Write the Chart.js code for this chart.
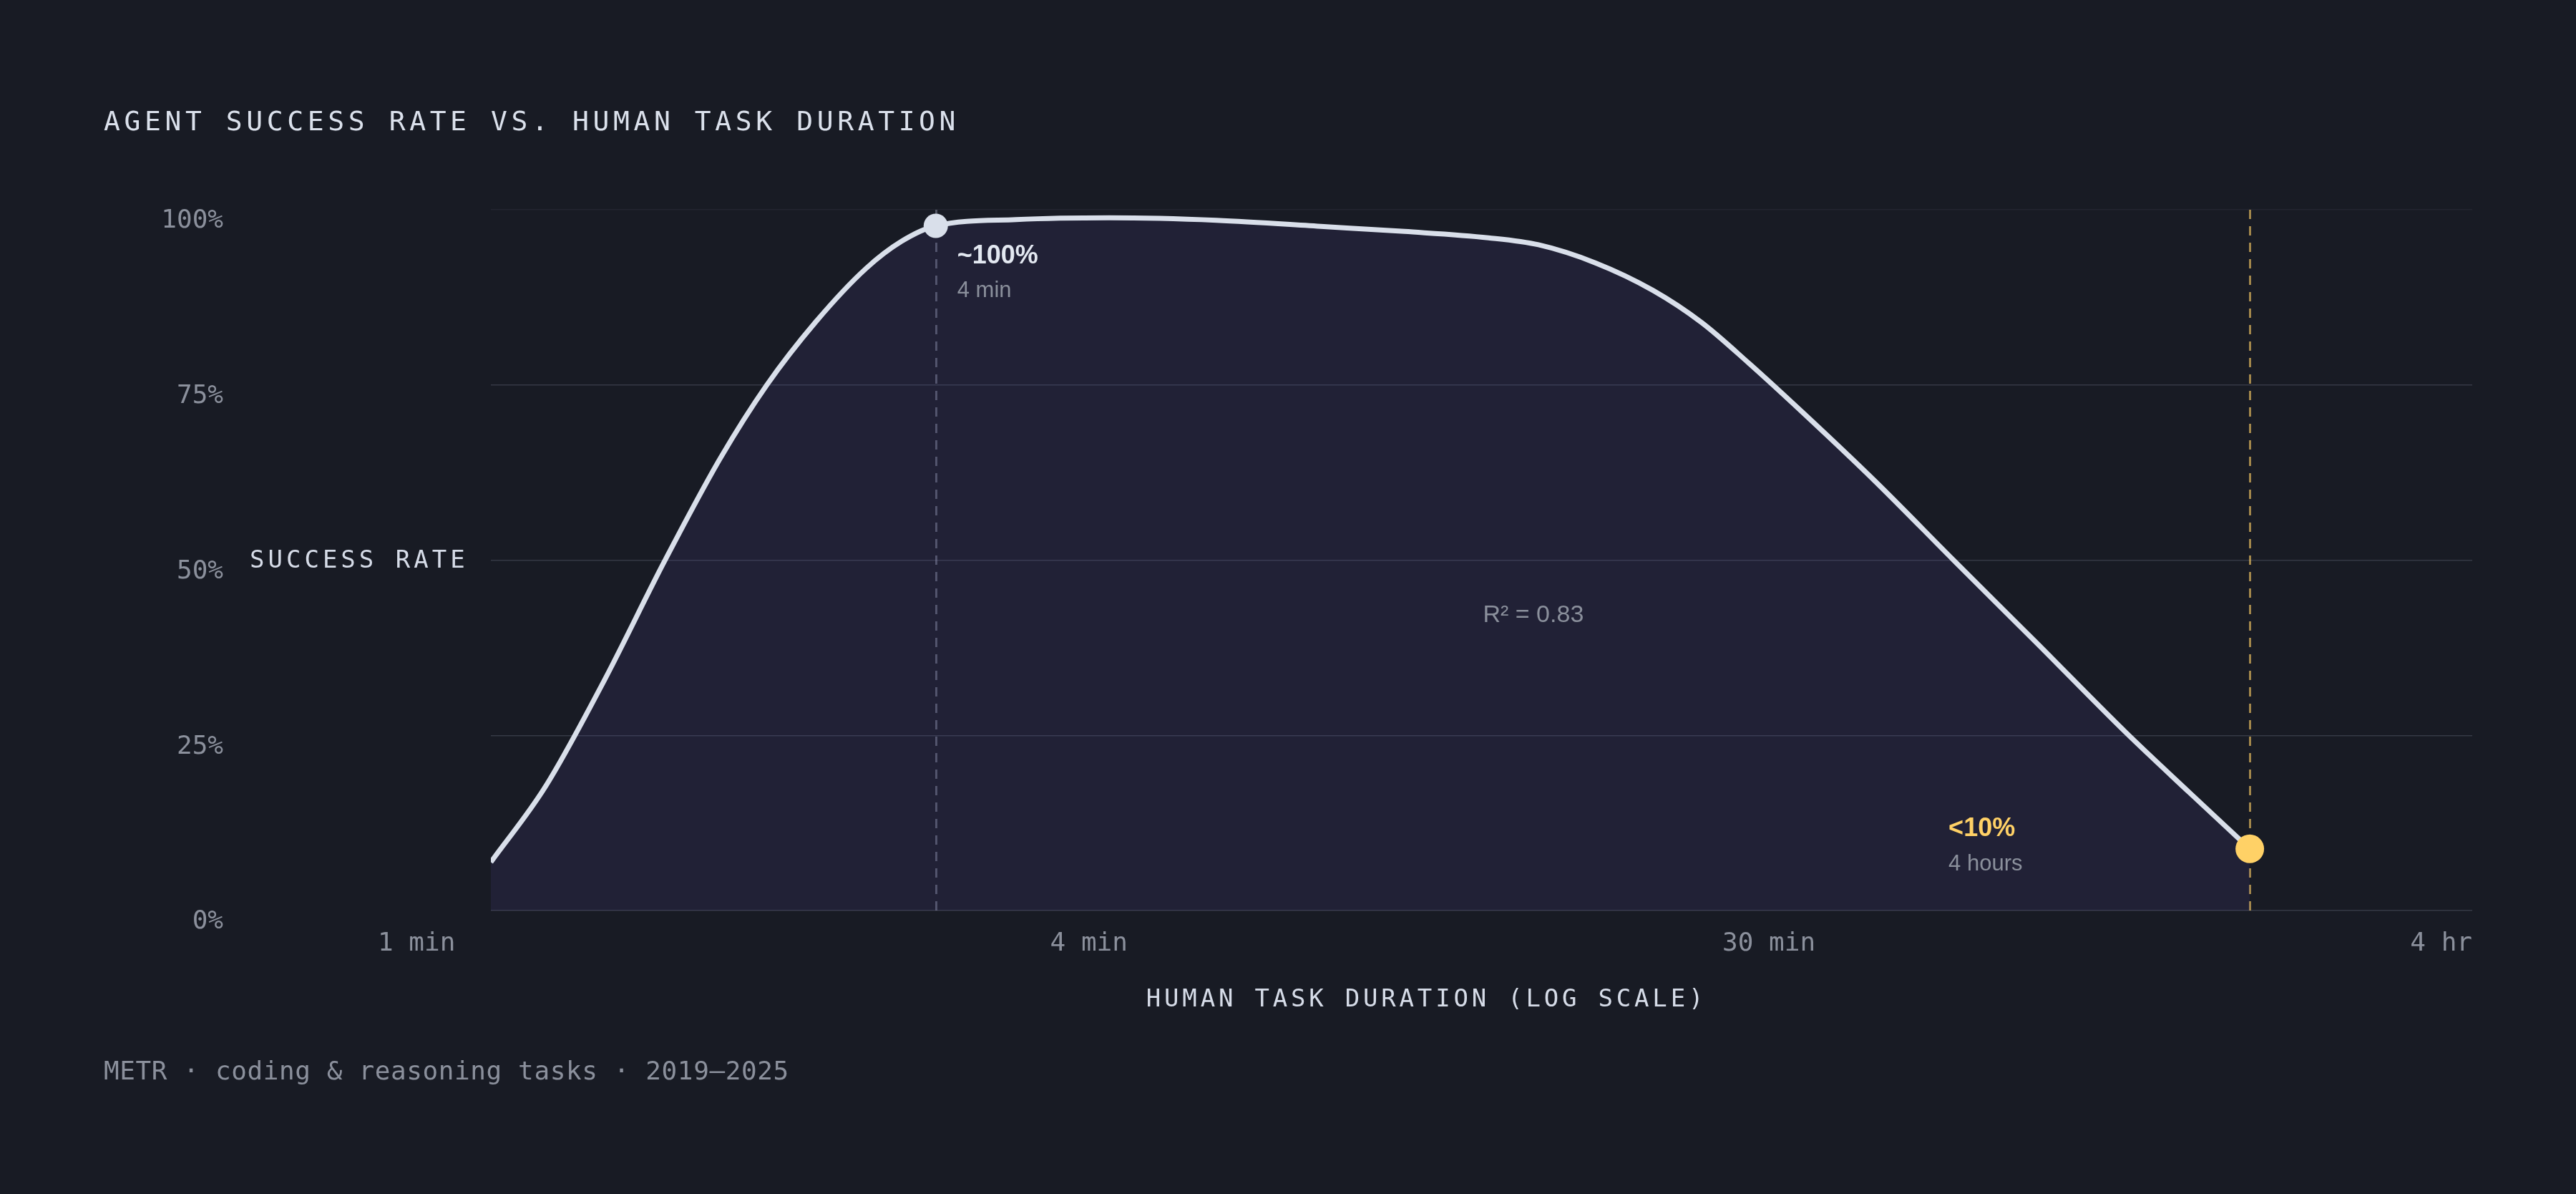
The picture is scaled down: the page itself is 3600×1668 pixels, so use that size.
<!DOCTYPE html>
<html>
<head>
<meta charset="utf-8">
<title>Agent success rate vs. human task duration</title>
<script src="https://cdn.jsdelivr.net/npm/chart.js@4.4.1/dist/chart.umd.min.js"></script>
<style>
  html, body { margin: 0; padding: 0; background: #181b24; overflow: hidden; }
  #wrap { position: relative; width: 3600px; height: 1668px; }
  #chart-box { position: absolute; left: 0; top: 0; width: 3600px; height: 1668px; }
  .title {
    position: absolute; left: 145px; top: 150px;
    font: 38px/1 "DejaVu Sans Mono", monospace;
    letter-spacing: 5.6px; color: #dbe1ec; white-space: nowrap;
  }
  .footer {
    position: absolute; left: 145px; top: 1478px;
    font: 36px/1 "DejaVu Sans Mono", monospace;
    letter-spacing: 0.6px; color: #8b909c; white-space: nowrap;
  }
</style>
</head>
<body>
<div id="wrap">
  <div id="chart-box"><canvas id="successChart"></canvas></div>
  <div class="title">AGENT SUCCESS RATE VS. HUMAN TASK DURATION</div>
  <div class="footer">METR · coding &amp; reasoning tasks · 2019–2025</div>
</div>
<script>
// Fitted curve (minutes, % success)
const durationMin = [
    1.0, 1.184, 1.42, 1.719, 2.043, 2.363, 2.752, 3.217, 3.596, 4.0,
    5.137, 6.866, 9.592, 13.4, 17.24, 22.38, 26.16, 31.27, 37.37, 43.5,
    50.39, 59.69, 74.61, 95.35, 123.5, 163.5, 199.0, 240
];
const successRate = [
    6.9, 17.6, 32.6, 49.9, 64.5, 75.0, 84.0, 91.6, 95.5, 97.7,
    98.6, 98.85, 98.5, 97.6, 96.9, 96.0, 95.0, 92.4, 88.5, 83.9,
    78.1, 71.0, 61.3, 50.0, 38.2, 25.3, 16.8, 8.8
];

// Highlighted points
const markerMin = [4, 240];
const markerRate = [97.7, 8.8];
const calloutTitles = ['~100%', '<10%'];
const calloutSubs = ['4 min', '4 hours'];

// Axes
const yTicks = [0, 25, 50, 75, 100];
const xTickLabels = ['1 min', '4 min', '30 min', '4 hr'];
const xRange = [1, 480];
const fitNote = 'R² = 0.83';

const MONO = '"DejaVu Sans Mono", monospace';
const SANS = '"Liberation Sans", Arial, sans-serif';
const guideColors = ['rgba(150, 155, 175, 0.45)', 'rgba(255, 209, 102, 0.6)'];
const markerColors = ['#d9dfea', '#ffd166'];
const titleColors = ['#e3e8f1', '#ffd166'];

const decor = {
    id: 'decor',
    beforeDatasetsDraw(chart) {
        const { ctx, chartArea, scales } = chart;
        ctx.save();
        ctx.lineWidth = 3;
        ctx.setLineDash([13, 10]);
        markerMin.forEach((m, i) => {
            const px = Math.round(scales.x.getPixelForValue(m)) + 0.5;
            ctx.strokeStyle = guideColors[i];
            ctx.beginPath();
            ctx.moveTo(px, chartArea.top);
            ctx.lineTo(px, chartArea.bottom);
            ctx.stroke();
        });
        ctx.restore();
    },
    afterDraw(chart) {
        const { ctx, chartArea, scales } = chart;
        ctx.save();

        // callouts next to the highlighted points
        const offX = [30, -421];
        const offTitle = [52, -18];
        const offSub = [99, 30];
        markerMin.forEach((m, i) => {
            const px = scales.x.getPixelForValue(m);
            const py = scales.y.getPixelForValue(markerRate[i]);
            ctx.textAlign = 'left';
            ctx.textBaseline = 'alphabetic';
            ctx.font = 'bold 36px ' + SANS;
            ctx.fillStyle = titleColors[i];
            ctx.fillText(calloutTitles[i], px + offX[i], py + offTitle[i]);
            ctx.font = '31px ' + SANS;
            ctx.fillStyle = '#8b909c';
            ctx.fillText(calloutSubs[i], px + offX[i], py + offSub[i]);
        });

        // fit note
        ctx.font = '34px ' + SANS;
        ctx.fillStyle = '#8b909c';
        ctx.fillText(fitNote, (chartArea.left + chartArea.right) / 2 + 2, chartArea.top + chartArea.height * 0.588);

        // y axis title, horizontal
        ctx.font = '34px ' + MONO;
        ctx.letterSpacing = '5px';
        ctx.fillStyle = '#d6dce8';
        ctx.textBaseline = 'middle';
        ctx.fillText('SUCCESS RATE', 349, (chartArea.top + chartArea.bottom) / 2 + 2);

        // x tick labels, spread across the label row
        const rowLeft = chartArea.left - 158;
        const rowRight = chartArea.right;
        ctx.letterSpacing = '0px';
        ctx.font = '36px ' + MONO;
        ctx.fillStyle = '#8b909c';
        ctx.textBaseline = 'alphabetic';
        const widths = xTickLabels.map(t => ctx.measureText(t).width);
        const gap = (rowRight - rowLeft - widths.reduce((a, b) => a + b, 0)) / (xTickLabels.length - 1);
        let cx = rowLeft;
        xTickLabels.forEach((t, i) => {
            ctx.fillText(t, cx, chartArea.bottom + 56);
            cx += widths[i] + gap;
        });

        // x axis title
        ctx.font = '34px ' + MONO;
        ctx.letterSpacing = '4.8px';
        ctx.fillStyle = '#d6dce8';
        ctx.textAlign = 'center';
        ctx.fillText('HUMAN TASK DURATION (LOG SCALE)', (rowLeft + rowRight) / 2 + 2, chartArea.bottom + 134);

        ctx.restore();
    }
};

const ctx = document.getElementById('successChart').getContext('2d');
new Chart(ctx, {
    type: 'line',
    data: {
        datasets: [
            {
                label: 'highlights',
                data: markerMin.map((m, i) => ({ x: m, y: markerRate[i] })),
                showLine: false,
                pointRadius: [17, 20],
                pointBackgroundColor: markerColors,
                pointBorderWidth: 0,
                clip: false
            },
            {
                label: 'success rate',
                data: durationMin.map((m, i) => ({ x: m, y: successRate[i] })),
                borderColor: '#d9dfea',
                borderWidth: 7,
                pointRadius: 0,
                cubicInterpolationMode: 'monotone',
                fill: 'origin',
                backgroundColor: 'rgba(95, 85, 190, 0.12)'
            }
        ]
    },
    options: {
        responsive: true,
        maintainAspectRatio: false,
        animation: false,
        layout: { padding: { top: 293, right: 145, left: 0, bottom: 0 } },
        plugins: {
            legend: { display: false },
            tooltip: { enabled: false }
        },
        scales: {
            x: {
                type: 'logarithmic',
                min: xRange[0],
                max: xRange[1],
                ticks: { display: false },
                grid: { display: false },
                border: { display: false },
                afterFit(scale) { scale.height = 396; }
            },
            y: {
                type: 'linear',
                min: 0,
                max: 100,
                afterBuildTicks(scale) { scale.ticks = yTicks.map(v => ({ value: v })); },
                ticks: {
                    callback: v => v + '%',
                    padding: 374,
                    labelOffset: 16,
                    color: '#8b909c',
                    font: { family: MONO, size: 36 }
                },
                grid: {
                    drawTicks: false,
                    lineWidth: 1.5,
                    color: c => c.tick && c.tick.value === 100 ? 'rgba(160, 165, 185, 0.08)' : 'rgba(160, 165, 185, 0.22)'
                },
                border: { display: false },
                afterFit(scale) {
                    scale.width = 686;
                    // the big label padding should not push the plot area down
                    scale.paddingTop = 0;
                    scale.paddingBottom = 0;
                }
            }
        }
    },
    plugins: [decor]
});
</script>
</body>
</html>
